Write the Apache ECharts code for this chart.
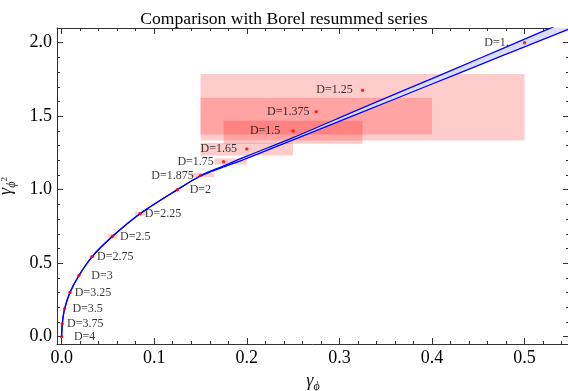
<!DOCTYPE html>
<html>
<head>
<meta charset="utf-8">
<script src="https://cdn.jsdelivr.net/npm/echarts@6/dist/echarts.min.js"></script>
<style>
  html, body { margin: 0; padding: 0; background: #fff; }
  #chart { width: 568px; height: 391px; }
</style>
</head>
<body>
<div id="chart"></div>
<script>
// data
const curveX = [0, 0.0007, 0.0032, 0.009, 0.0187, 0.033, 0.0547, 0.0847, 0.125, 0.15, 0.175, 0.2, 0.25, 0.3225, 0.4, 0.4522, 0.5, 0.548];
const lowerY = [0, 0.087, 0.189, 0.30, 0.416, 0.545, 0.681, 0.836, 1.0, 1.093, 1.155, 1.213, 1.339, 1.522, 1.719, 1.851, 1.972, 2.093];
const upperY = [0, 0.087, 0.189, 0.30, 0.416, 0.545, 0.681, 0.836, 1.0, 1.095, 1.162, 1.228, 1.354, 1.55, 1.756, 1.896, 2.024, 2.153];

const dotLabels = ['D=4', 'D=3.75', 'D=3.5', 'D=3.25', 'D=3', 'D=2.75', 'D=2.5', 'D=2.25', 'D=2', 'D=1.875', 'D=1.75', 'D=1.65', 'D=1.5', 'D=1.375', 'D=1.25', 'D=1.'];
const dotX = [0, 0.0007, 0.0032, 0.009, 0.0187, 0.033, 0.0547, 0.0847, 0.125, 0.15, 0.175, 0.2, 0.25, 0.275, 0.325, 0.5];
const dotY = [0, 0.087, 0.189, 0.30, 0.416, 0.545, 0.681, 0.836, 1.0, 1.097, 1.19, 1.277, 1.40, 1.53, 1.676, 2.0];

// error boxes (D = 1.25, 1.375, 1.5, 1.65, 1.75, 1.875, 2.25, 2.5, 2.75)
const boxX0 = [0.15, 0.15, 0.175, 0.15, 0.165, 0.139, 0.0793, 0.0504, 0.030];
const boxX1 = [0.5, 0.4, 0.325, 0.25, 0.2, 0.165, 0.0912, 0.0605, 0.036];
const boxY0 = [1.335, 1.376, 1.313, 1.233, 1.172, 1.086, 0.822, 0.668, 0.537];
const boxY1 = [1.787, 1.626, 1.469, 1.32, 1.212, 1.113, 0.851, 0.698, 0.553];

const xTickLabels = ['0.0', '0.1', '0.2', '0.3', '0.4', '0.5'];
const yTickLabels = ['0.0', '0.5', '1.0', '1.5', '2.0'];

const serif = "'Liberation Serif', 'DejaVu Serif', serif";
const frame = '#333';

const xMajor = xTickLabels.map(Number);
const yMajor = yTickLabels.map(Number);
const xMinor = [];
for (let i = 0; i <= 27; i++) xMinor.push(+(i * 0.02).toFixed(2));
const yMinor = [];
for (let i = 0; i <= 20; i++) yMinor.push(+(i * 0.1).toFixed(1));

const X_MIN = -0.005, X_MAX = 0.548, Y_MIN = -0.05, Y_MAX = 2.1;

function axis(kind, pos, ticks, len, labels, line) {
  const a = {
    type: 'value',
    position: pos,
    min: kind === 'x' ? X_MIN : Y_MIN,
    max: kind === 'x' ? X_MAX : Y_MAX,
    axisLine: { show: line, onZero: false, lineStyle: { color: frame, width: 1 } },
    axisTick: { show: true, inside: true, length: len, customValues: ticks, lineStyle: { color: frame, width: 1 } },
    axisLabel: { show: false },
    splitLine: { show: false }
  };
  if (labels) {
    a.axisLabel = {
      show: true, customValues: labels, formatter: v => v.toFixed(1),
      fontFamily: serif, fontSize: 18, color: '#000', margin: 5
    };
  }
  return a;
}

const xAxes = [
  axis('x', 'bottom', xMajor, 6, xMajor, true),
  axis('x', 'bottom', xMinor, 3, null, false),
  axis('x', 'top', xMajor, 6, null, true),
  axis('x', 'top', xMinor, 3, null, false)
];
const yAxes = [
  axis('y', 'left', yMajor, 6, yMajor, true),
  axis('y', 'left', yMinor, 3, null, false),
  axis('y', 'right', yMajor, 6, null, true),
  axis('y', 'right', yMinor, 3, null, false)
];

xAxes[0].name = '{g|γ}{s|ϕ}';
xAxes[0].nameLocation = 'middle';
xAxes[0].nameGap = 27;
xAxes[0].nameTextStyle = {
  rich: {
    g: { fontFamily: serif, fontStyle: 'italic', fontSize: 18, color: '#111', lineHeight: 24, verticalAlign: 'top' },
    s: { fontFamily: serif, fontStyle: 'italic', fontSize: 12, color: '#111', lineHeight: 12, padding: [9, 0, 0, 0], verticalAlign: 'top' }
  }
};
yAxes[0].name = '{g|γ}{s|ϕ}{t|2}';
yAxes[0].nameLocation = 'middle';
yAxes[0].nameRotate = 90;
yAxes[0].nameGap = 36;
yAxes[0].nameTextStyle = {
  rich: {
    g: { fontFamily: serif, fontStyle: 'italic', fontSize: 18, color: '#111', lineHeight: 24, verticalAlign: 'top' },
    s: { fontFamily: serif, fontStyle: 'italic', fontSize: 12, color: '#111', lineHeight: 12, padding: [9, 0, 0, 0], verticalAlign: 'top' },
    t: { fontFamily: serif, fontSize: 9, color: '#111', lineHeight: 9, padding: [3, 0, 0, 0], verticalAlign: 'top' }
  }
};

const chart = echarts.init(document.getElementById('chart'), null, { renderer: 'canvas' });

chart.setOption({
  animation: false,
  backgroundColor: '#fff',
  title: {
    text: 'Comparison with Borel resummed series',
    left: 'center',
    top: 5,
    textStyle: { fontFamily: serif, fontSize: 17.6, fontWeight: 'normal', color: '#000' }
  },
  grid: { left: 57, top: 28, width: 512, height: 316, outerBoundsMode: 'none', containLabel: false },
  xAxis: xAxes,
  yAxis: yAxes,
  series: [
    {
      type: 'custom',
      z: 1,
      clip: true,
      data: boxX0.map((x, i) => [x, boxX1[i], boxY0[i], boxY1[i]]),
      encode: { x: [0, 1], y: [2, 3] },
      renderItem: function (params, api) {
        const a = api.coord([api.value(0), api.value(3)]);
        const b = api.coord([api.value(1), api.value(2)]);
        return {
          type: 'rect',
          shape: { x: a[0], y: a[1], width: b[0] - a[0], height: b[1] - a[1] },
          style: { fill: 'rgba(255,0,0,0.2)' }
        };
      }
    },
    {
      type: 'custom',
      z: 2,
      clip: true,
      data: [[curveX[0], lowerY[0]]],
      renderItem: function (params, api) {
        const pts = [];
        curveX.forEach((x, i) => pts.push(api.coord([x, upperY[i]])));
        for (let i = curveX.length - 1; i >= 0; i--) pts.push(api.coord([curveX[i], lowerY[i]]));
        return { type: 'polygon', shape: { points: pts }, style: { fill: '#dcdcfb' } };
      }
    },
    {
      type: 'line',
      z: 3,
      data: curveX.map((x, i) => [x, lowerY[i]]),
      showSymbol: false,
      smooth: 0.3,
      lineStyle: { color: '#0000ff', width: 1.3 }
    },
    {
      type: 'line',
      z: 3,
      data: curveX.map((x, i) => [x, upperY[i]]),
      showSymbol: false,
      smooth: 0.3,
      lineStyle: { color: '#0000ff', width: 1.3 }
    },
    {
      type: 'scatter',
      z: 4,
      symbol: 'circle',
      symbolSize: 3.5,
      itemStyle: { color: '#ff0000' },
      data: dotX.map((x, i) => ({
        value: [x, dotY[i]],
        label: { offset: x >= 0.15 ? [-28, 0] : [23, 0] }
      })),
      label: {
        show: true,
        position: 'inside',
        formatter: p => dotLabels[p.dataIndex],
        fontFamily: serif,
        fontSize: 12,
        color: '#000'
      }
    }
  ]
});
</script>
</body>
</html>
